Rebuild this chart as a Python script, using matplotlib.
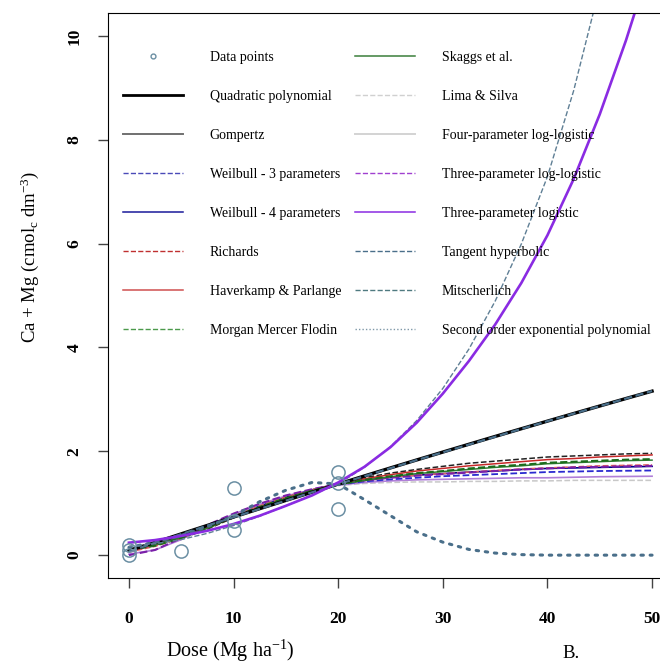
import matplotlib
matplotlib.use("Agg")
import matplotlib.pyplot as plt
from matplotlib.lines import Line2D

plt.rcParams['font.family'] = ['Liberation Serif', 'DejaVu Serif']
plt.rcParams['mathtext.fontset'] = 'custom'
plt.rcParams['mathtext.rm'] = 'Liberation Serif'
plt.rcParams['mathtext.it'] = 'Liberation Serif:italic'

# observed values
obs_dose = [0, 0, 0, 5, 10, 10, 10, 20, 20, 20]
obs_camg = [0.0, 0.1, 0.2, 0.08, 0.48, 0.65, 1.29, 0.88, 1.39, 1.6]

# fitted curves at these doses
dose = [0, 2.5, 5, 7.5, 10, 12.5, 15, 17.5, 20, 22.5, 25,
        27.5, 30, 32.5, 35, 37.5, 40, 42.5, 45, 47.5, 50]

quadratic = [0.09, 0.245, 0.41, 0.573, 0.734, 0.895, 1.054, 1.212, 1.369, 1.525, 1.68,
             1.833, 1.985, 2.136, 2.286, 2.434, 2.581, 2.727, 2.872, 3.016, 3.158]
gompertz = [0.12, 0.2, 0.32, 0.5, 0.72, 0.93, 1.11, 1.26, 1.38, 1.49, 1.58,
            1.65, 1.71, 1.77, 1.81, 1.85, 1.89, 1.91, 1.93, 1.95, 1.96]
weibull3 = [0.1, 0.2, 0.36, 0.55, 0.75, 0.94, 1.11, 1.25, 1.36, 1.42, 1.46,
            1.49, 1.52, 1.54, 1.56, 1.58, 1.6, 1.61, 1.62, 1.625, 1.63]
weibull4 = [0.09, 0.19, 0.35, 0.54, 0.74, 0.94, 1.11, 1.25, 1.37, 1.44, 1.5,
            1.54, 1.57, 1.6, 1.62, 1.65, 1.67, 1.68, 1.69, 1.7, 1.71]
richards = [0.06, 0.17, 0.33, 0.53, 0.75, 0.95, 1.12, 1.26, 1.37, 1.44, 1.5,
            1.54, 1.57, 1.6, 1.63, 1.66, 1.68, 1.7, 1.72, 1.73, 1.74]
haverkamp = [0.08, 0.2, 0.34, 0.52, 0.73, 0.92, 1.09, 1.24, 1.37, 1.47, 1.55,
             1.62, 1.67, 1.72, 1.76, 1.8, 1.84, 1.86, 1.89, 1.91, 1.93]
mmf = [0.1, 0.18, 0.33, 0.52, 0.74, 0.93, 1.1, 1.24, 1.36, 1.45, 1.52,
       1.58, 1.62, 1.67, 1.71, 1.74, 1.78, 1.8, 1.82, 1.84, 1.85]
skaggs = [0.11, 0.2, 0.34, 0.52, 0.73, 0.92, 1.09, 1.24, 1.36, 1.44, 1.51,
          1.57, 1.61, 1.65, 1.69, 1.72, 1.76, 1.78, 1.8, 1.82, 1.83]
lima_silva = [0.12, 0.22, 0.37, 0.55, 0.74, 0.92, 1.09, 1.23, 1.34, 1.38, 1.4,
              1.41, 1.41, 1.42, 1.42, 1.43, 1.43, 1.44, 1.44, 1.44, 1.44]
loglogistic4 = [0.02, 0.1, 0.3, 0.56, 0.79, 0.98, 1.14, 1.26, 1.35, 1.4, 1.43,
                1.45, 1.46, 1.47, 1.48, 1.49, 1.49, 1.5, 1.51, 1.515, 1.52]
loglogistic3 = [0.0, 0.1, 0.33, 0.58, 0.8, 0.99, 1.15, 1.27, 1.37, 1.44, 1.49,
                1.53, 1.56, 1.59, 1.62, 1.65, 1.67, 1.69, 1.7, 1.71, 1.72]
logistic3 = [0.24, 0.29, 0.37, 0.47, 0.6, 0.76, 0.95, 1.15, 1.4, 1.7, 2.08,
             2.55, 3.11, 3.74, 4.44, 5.24, 6.16, 7.24, 8.49, 9.91, 11.49]
tanh_hyp = [0.17, 0.22, 0.3, 0.42, 0.57, 0.75, 0.95, 1.16, 1.37, 1.69, 2.09,
            2.59, 3.21, 3.97, 4.89, 5.99, 7.29, 8.94, 10.94, 13.3, 16.0]
mitscherlich = [0.07, 0.24, 0.405, 0.57, 0.73, 0.89, 1.05, 1.21, 1.365, 1.52, 1.675,
                1.83, 1.98, 2.13, 2.28, 2.43, 2.58, 2.725, 2.87, 3.015, 3.16]
exp_poly2 = [0.15, 0.25, 0.38, 0.55, 0.75, 1.03, 1.25, 1.4, 1.37, 1.07, 0.76,
             0.45, 0.25, 0.11, 0.04, 0.01, 0.0, 0.0, 0.0, 0.0, 0.0]

pt_col = '#6b8fa3'
slate = '#4a6f8a'

fig = plt.figure(figsize=(6.6, 6.65), dpi=100)
ax = fig.add_axes([108 / 660, 87 / 665, 565 / 660, 565 / 665])

# curves (plot colour, legend colour may differ like in the original)
ax.plot(dose, gompertz, color='#222222', ls='--', lw=1.1)
ax.plot(dose, lima_silva, color='#c8c8c8', ls='--', lw=1.1)
ax.plot(dose, loglogistic4, color='#b07fd8', lw=1.2)
ax.plot(dose, weibull3, color='#2a2ad0', ls='--', lw=1.3)
ax.plot(dose, weibull4, color='#00008b', lw=1.2)
ax.plot(dose, richards, color='#e06060', ls='--', lw=1.1)
ax.plot(dose, loglogistic3, color='#7a1fa8', ls='--', lw=1.5)
ax.plot(dose, haverkamp, color='#c62828', lw=1.1)
ax.plot(dose, skaggs, color='#2e7d32', lw=1.1)
ax.plot(dose, mmf, color='#1b6b1b', ls='--', lw=1.4)
ax.plot(dose, quadratic, color='black', lw=2.4)
ax.plot(dose, mitscherlich, color=slate, ls='--', lw=1.6)
ax.plot(dose, exp_poly2, color=slate, ls=(0, (0.8, 2.2)), lw=2.2,
        dash_capstyle='round')
ax.plot(dose, tanh_hyp, color='#5f7f95', ls='--', lw=1.0)
ax.plot(dose, logistic3, color='#8a2be2', lw=1.9)

ax.plot(obs_dose, obs_camg, 'o', mfc='none', mec=pt_col, mew=1.1, ms=9.5,
        zorder=5)

ax.set_xlim(-2, 52)
ax.set_ylim(-0.44, 10.44)
ax.set_xticks([0, 10, 20, 30, 40, 50])
ax.set_yticks([0, 2, 4, 6, 8, 10])
ax.spines['right'].set_visible(False)
ax.tick_params(length=7.5, width=1, color='#444444', labelsize=12.5)
ax.tick_params(axis='x', pad=16)
ax.tick_params(axis='y', pad=11, labelrotation=90)
for lab in ax.get_xticklabels() + ax.get_yticklabels():
    lab.set_fontweight('bold')
for lab in ax.get_yticklabels():
    lab.set_va('center')

fig.text(30 / 660, 1 - 257 / 665, r'Ca + Mg (cmol$_\mathrm{c}$ dm$^{-3}$)',
         rotation=90, ha='center', va='center', fontsize=13.5)
fig.text(230 / 660, 1 - 651 / 665, r'Dose (Mg ha$^{-1}$)',
         ha='center', va='center', fontsize=14.5)
fig.text(571 / 660, 1 - 653 / 665, 'B.', ha='center', va='center',
         fontsize=13.5)

# legend, two columns
col1 = [
    ('Data points', Line2D([], [], ls='none', marker='o', ms=3.5, mfc='none',
                           mec=pt_col, mew=1)),
    ('Quadratic polynomial', Line2D([], [], color='black', lw=2)),
    ('Gompertz', Line2D([], [], color='#707070', lw=1.4)),
    ('Weilbull - 3 parameters', Line2D([], [], color='#4a4ab8', ls='--', lw=1)),
    ('Weilbull - 4 parameters', Line2D([], [], color='#1a1a9a', lw=1.1)),
    ('Richards', Line2D([], [], color='#c03030', ls='--', lw=1)),
    ('Haverkamp & Parlange', Line2D([], [], color='#d05050', lw=1.1)),
    ('Morgan Mercer Flodin', Line2D([], [], color='#4c9a4c', ls='--', lw=1)),
]
col2 = [
    ('Skaggs et al.', Line2D([], [], color='#3a7f3a', lw=1.1)),
    ('Lima & Silva', Line2D([], [], color='#d0d0d0', ls='--', lw=1)),
    ('Four-parameter log-logistic', Line2D([], [], color='#d3d3d3', lw=1.4)),
    ('Three-parameter log-logistic', Line2D([], [], color='#a040d0', ls='--', lw=1)),
    ('Three-parameter logistic', Line2D([], [], color='#8a2be2', lw=1.1)),
    ('Tangent hyperbolic', Line2D([], [], color=slate, ls='--', lw=1)),
    ('Mitscherlich', Line2D([], [], color='#4f7a80', ls='--', lw=1)),
    ('Second order exponential polynomial',
     Line2D([], [], color='#7f98a8', ls=(0, (1, 1.5)), lw=1)),
]

legends = []
for items, x0 in [(col1, 123), (col2, 355)]:
    leg = ax.legend([h for _, h in items], [t for t, _ in items],
                    loc='upper left', bbox_to_anchor=(x0 / 660, 1 - 51 / 665),
                    bbox_transform=fig.transFigure, frameon=False,
                    fontsize=10.0, handlelength=4.3, handletextpad=1.95,
                    labelspacing=1.87, borderpad=0, borderaxespad=0,
                    numpoints=1)
    legends.append(leg)
ax.add_artist(legends[0])

fig.savefig('out.png', dpi=100)
